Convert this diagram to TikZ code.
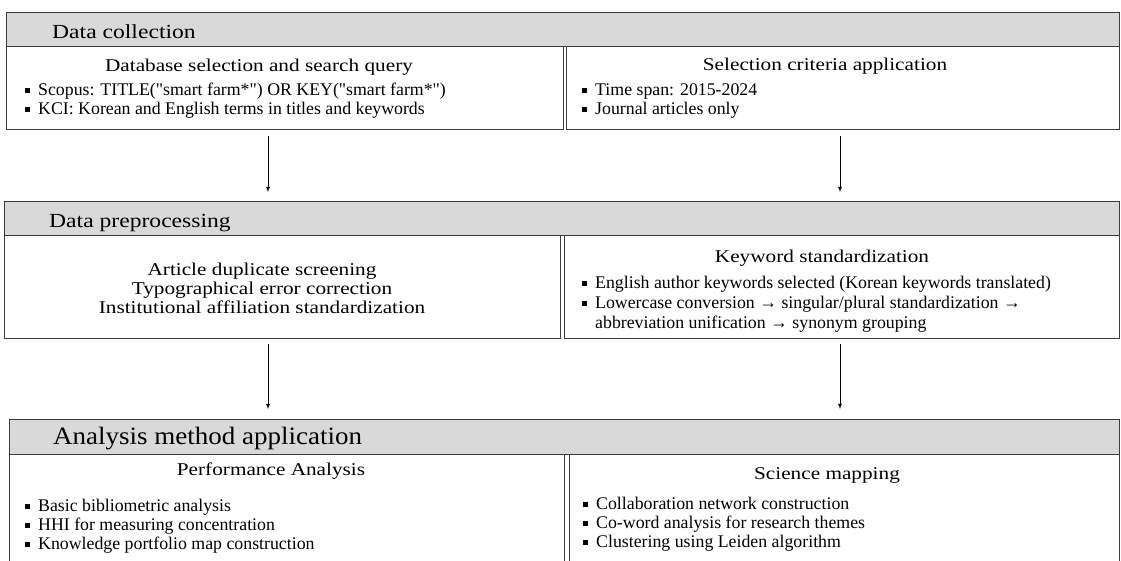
\documentclass[tikz,border=0pt]{standalone}
\usepackage{fontspec}
\setmainfont{Liberation Serif}
\newfontfamily\widefont[FakeStretch=1.18]{Liberation Serif}
\newfontfamily\bigfont[FakeStretch=1.08]{Liberation Serif}
\usepackage{xcolor}
\usepackage{tikz}

\definecolor{hdrgray}{HTML}{D9D9D9}
\definecolor{framegray}{HTML}{3C3C3C}
\newcommand{\sqb}{\makebox[13pt][l]{\rule[2.5pt]{4.5pt}{4.5pt}}}
\newcommand{\qt}{\textquotedbl}

\tikzset{
	hdrbox/.style={draw=framegray, fill=hdrgray, line width=1.3pt, inner sep=0pt, anchor=north west},
	cbox/.style={draw=framegray, line width=1.3pt, inner sep=0pt, anchor=north west},
	hdrtxt/.style={anchor=base west, inner sep=0pt, font=\widefont\fontsize{20}{22}\selectfont},
	subtxt/.style={anchor=base, inner sep=0pt, font=\widefont\fontsize{18}{20}\selectfont},
	itemtxt/.style={anchor=base west, inner sep=0pt, font=\fontsize{17.8}{20}\selectfont},
	arr/.style={-latex, line width=0.8pt},
}

\begin{document}
\begin{tikzpicture}[x=1pt,y=-1pt]
	\useasboundingbox (0,0) rectangle (1121,560);
	\coordinate (leftcol) at (268,0);
	\coordinate (rightcol) at (840,0);

	% data collection
	\node[hdrbox, minimum width=1113pt, minimum height=34pt] (colhead) at (6,12) {};
	\node[hdrtxt] (coltitle) at (52,38) {Data collection};
	\node[cbox, minimum width=557pt, minimum height=83pt] (dbbox) at (6,46) {};
	\node[cbox, minimum width=553pt, minimum height=83pt] (critbox) at (566,46) {};
	\node[subtxt] (dbtitle) at (259,71) {Database selection and search query};
	\node[subtxt] (crittitle) at (825,70) {Selection criteria application};
	\foreach \t [count=\i] in {{Scopus: TITLE(\qt smart farm*\qt) OR KEY(\qt smart farm*\qt)},
		{KCI: Korean and English terms in titles and keywords}}
	\node[itemtxt] (dbitem\i) at (25,76+19*\i) {\sqb\t};
	\foreach \t [count=\i] in {{Time span: 2015-2024},{Journal articles only}}
	\node[itemtxt] (crititem\i) at (582,76+19*\i) {\sqb\t};

	% data preprocessing
	\node[hdrbox, minimum width=1115pt, minimum height=34pt] (prephead) at (4,201) {};
	\node[hdrtxt] (preptitle) at (49,227) {Data preprocessing};
	\node[cbox, minimum width=555.5pt, minimum height=103pt] (dupbox) at (4,235) {};
	\node[cbox, minimum width=555pt, minimum height=103pt] (kwbox) at (564,235) {};
	\foreach \t [count=\i] in {{Article duplicate screening},{Typographical error correction},
		{Institutional affiliation standardization}}
	\node[subtxt] (dupline\i) at (262,256+19*\i) {\t};
	\node[subtxt] (kwtitle) at (822,262) {Keyword standardization};
	\node[itemtxt] (kwitem1) at (582,288) {\sqb English author keywords selected (Korean keywords translated)};
	\node[itemtxt] (kwitem2) at (582,308) {\sqb Lowercase conversion → singular/plural standardization →};
	\node[itemtxt] (kwitem3) at (595,328) {abbreviation unification → synonym grouping};

	% analysis method application
	\node[hdrbox, minimum width=1110pt, minimum height=35pt] (anahead) at (9,419) {};
	\node[hdrtxt, font=\bigfont\fontsize{25}{28}\selectfont] (anatitle) at (53,444) {Analysis method application};
	\node[cbox, minimum width=555pt, minimum height=110pt] (perfbox) at (9,454) {};
	\node[cbox, minimum width=550.5pt, minimum height=110pt] (scibox) at (568.5,454) {};
	\node[subtxt] (perftitle) at (271,475) {Performance Analysis};
	\node[subtxt] (scititle) at (827,479) {Science mapping};
	\foreach \t [count=\i] in {{Basic bibliometric analysis},{HHI for measuring concentration},
		{Knowledge portfolio map construction}}
	\node[itemtxt] (perfitem\i) at (25,492+19*\i) {\sqb\t};
	\foreach \t [count=\i] in {{Collaboration network construction},{Co-word analysis for research themes},
		{Clustering using Leiden algorithm}}
	\node[itemtxt] (sciitem\i) at (583,490+19*\i) {\sqb\t};

	% arrows
	\draw[arr, shorten <=6pt, shorten >=9pt] (dbbox.south -| leftcol) -- (prephead.north -| leftcol);
	\draw[arr, shorten <=6pt, shorten >=9pt] (critbox.south -| rightcol) -- (prephead.north -| rightcol);
	\draw[arr, shorten <=5pt, shorten >=10pt] (dupbox.south -| leftcol) -- (anahead.north -| leftcol);
	\draw[arr, shorten <=5pt, shorten >=10pt] (kwbox.south -| rightcol) -- (anahead.north -| rightcol);
\end{tikzpicture}
\end{document}
